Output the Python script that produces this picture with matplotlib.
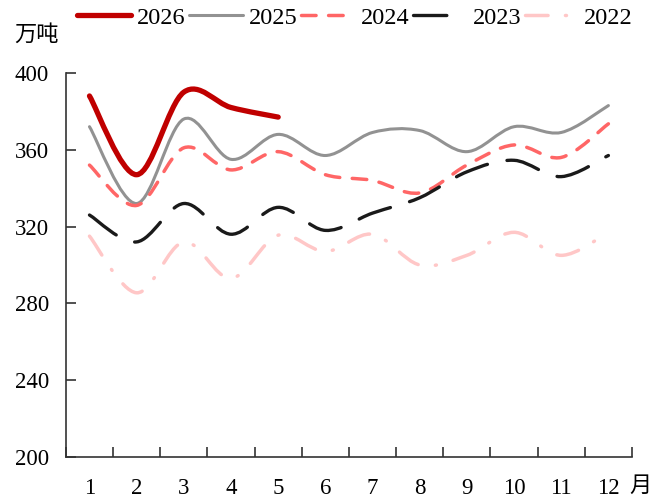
import matplotlib
matplotlib.use('Agg')
import matplotlib.pyplot as plt
from matplotlib.path import Path
from matplotlib.patches import PathPatch
from matplotlib.lines import Line2D
import numpy as np

plt.rcParams['font.family'] = ['Liberation Serif', 'Noto Sans CJK SC']

# 月份与各年数据（万吨）
months = list(range(1, 13))
y2026 = [388, 347, 390, 382, 377]
y2025 = [372, 332, 376, 355, 368, 357, 369, 370, 359, 372, 369, 383]
y2024 = [352, 331, 361, 349.5, 359, 347, 344, 337.5, 352, 362.5, 356, 373.5]
y2023 = [326, 312, 332, 316, 330, 318, 327, 335, 348.5, 354.5, 346, 357]
y2022 = [315, 285.5, 312, 293, 315.5, 307, 316, 300, 305, 317, 305, 317]

series = [
    ("2026", y2026, "#C00000", 3.8, "-"),
    ("2025", y2025, "#929292", 2.2, "-"),
    ("2024", y2024, "#FF6666", 2.5, (0, (4.2, 3.6))),
    ("2023", y2023, "#1A1A1A", 2.4, (0, (10, 6))),
    ("2022", y2022, "#FFC7C7", 2.5, (0, (6.5, 5, 0.3, 5))),
]


def smooth_path(xs, ys):
    """平滑曲线：三次贝塞尔控制点"""
    pts = np.column_stack([xs, ys]).astype(float)
    n = len(pts)
    verts = [pts[0]]
    codes = [Path.MOVETO]
    for i in range(n - 1):
        p0 = pts[i - 1] if i > 0 else pts[i]
        p1 = pts[i]
        p2 = pts[i + 1]
        p3 = pts[i + 2] if i + 2 < n else pts[i + 1]
        c1 = p1 + (p2 - p0) / 6
        c2 = p2 - (p3 - p1) / 6
        verts += [c1, c2, p2]
        codes += [Path.CURVE4] * 3
    return Path(verts, codes)


fig = plt.figure(figsize=(6.59, 5.03), dpi=100)
ax = fig.add_axes([0.100, 0.0915, 0.859, 0.7635])

handles = []
for name, vals, color, lw, ls in series:
    xs = months[:len(vals)]
    patch = PathPatch(smooth_path(xs, vals), fill=False, edgecolor=color,
                      linewidth=lw, linestyle=ls, capstyle='round', joinstyle='round')
    ax.add_patch(patch)
    handles.append(Line2D([], [], color=color, linewidth=lw, linestyle=ls,
                          solid_capstyle='round', dash_capstyle='round'))

ax.set_xlim(0.5, 12.5)
ax.set_ylim(200, 400)
ax.set_yticks([200, 240, 280, 320, 360, 400])
ax.set_xticks(months)
ax.set_xticks(np.arange(0.5, 12.6, 1), minor=True)
ax.tick_params(axis='x', which='major', length=0, pad=15, labelsize=16.5)
ax.tick_params(axis='x', which='minor', direction='in', length=7, width=1.2, color='#333333')
ax.tick_params(axis='y', direction='in', length=7, width=1.2, color='#333333', pad=12, labelsize=16.5)
for s in ['top', 'right']:
    ax.spines[s].set_visible(False)
for s in ['left', 'bottom']:
    ax.spines[s].set_linewidth(1.2)
    ax.spines[s].set_color('#333333')

fig.text(0.022, 0.918, "万吨", fontsize=16, family=['Noto Sans CJK SC'])
fig.text(0.955, 0.022, "月", fontsize=16, family=['Noto Sans CJK SC'])

fig.legend(handles, [s[0] for s in series], loc='upper center', bbox_to_anchor=(0.539, 1.03),
           ncol=5, frameon=False, fontsize=17.5, handlelength=2.2, handletextpad=0.25,
           columnspacing=0.15)

fig.savefig("out.png", dpi=100)
